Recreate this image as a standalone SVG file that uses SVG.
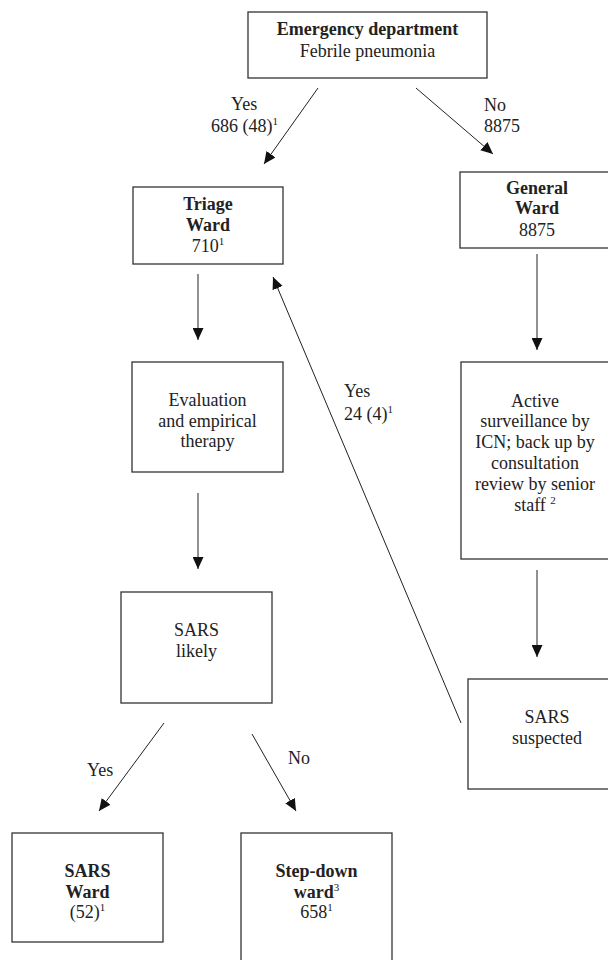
<svg xmlns="http://www.w3.org/2000/svg" width="608" height="960" viewBox="0 0 608 960">
<defs>
<style>
text{font-family:"Liberation Serif",Tinos,"Times New Roman","DejaVu Serif",serif;font-size:18px;fill:#222}
.t{text-anchor:middle}
.b{font-weight:bold}
.sup{font-size:11px;font-weight:normal}
.box{fill:#fff;stroke:#333;stroke-width:1.3}
.c{stroke:#222;stroke-width:1;fill:none;marker-end:url(#ah)}
</style>
<marker id="ah" markerUnits="userSpaceOnUse" markerWidth="12" markerHeight="11" refX="12" refY="5.5" orient="auto">
<path d="M0,0 L12,5.5 L0,11 Z" fill="#111"/>
</marker>
</defs>
<rect width="608" height="960" fill="#fff"/>

<g id="connectors" font-family="Liberation Serif, serif">
<line class="c" x1="318" y1="88" x2="264" y2="164"/>
<line class="c" x1="416" y1="88" x2="493" y2="154"/>
<line class="c" x1="198" y1="274" x2="198" y2="340"/>
<line class="c" x1="198" y1="493" x2="198" y2="569"/>
<line class="c" x1="537" y1="254" x2="537" y2="350"/>
<line class="c" x1="537" y1="570" x2="537" y2="657"/>
<line class="c" x1="461" y1="723" x2="273" y2="277"/>
<line class="c" x1="164" y1="723" x2="99" y2="811"/>
<line class="c" x1="252" y1="734" x2="296" y2="811"/>
<text x="231" y="110">Yes</text>
<text x="211" y="132">686 (48)<tspan class="sup" dy="-7">1</tspan></text>
<text x="484" y="111">No</text>
<text x="484" y="132">8875</text>
<text x="344" y="397">Yes</text>
<text x="344" y="420">24 (4)<tspan class="sup" dy="-7">1</tspan></text>
<text x="87" y="776">Yes</text>
<text x="288" y="764">No</text>
</g>

<g id="emergency">
<rect class="box" x="248" y="12" width="239" height="66"/>
<text class="t b" x="367.5" y="35">Emergency department</text>
<text class="t" x="367.5" y="57">Febrile pneumonia</text>
</g>

<g id="triage">
<rect class="box" x="133" y="187" width="150" height="77"/>
<text class="t b" x="208" y="210">Triage</text>
<text class="t b" x="208" y="231">Ward</text>
<text class="t" x="208" y="252">710<tspan class="sup" dy="-7">1</tspan></text>
</g>

<g id="general">
<rect class="box" x="460" y="172" width="160" height="76"/>
<text class="t b" x="537" y="194">General</text>
<text class="t b" x="537" y="214">Ward</text>
<text class="t" x="537" y="236">8875</text>
</g>

<g id="evaluation">
<rect class="box" x="132" y="362" width="151" height="110"/>
<text class="t" x="207.5" y="406">Evaluation</text>
<text class="t" x="207.5" y="427">and empirical</text>
<text class="t" x="207.5" y="447">therapy</text>
</g>

<g id="surveillance">
<rect class="box" x="461" y="362" width="160" height="197"/>
<text class="t" x="535" y="407">Active</text>
<text class="t" x="535" y="427">surveillance by</text>
<text class="t" x="535" y="448">ICN; back up by</text>
<text class="t" x="535" y="469">consultation</text>
<text class="t" x="535" y="490">review by senior</text>
<text class="t" x="535" y="511">staff <tspan class="sup" dy="-7">2</tspan></text>
</g>

<g id="sars-likely">
<rect class="box" x="121" y="592" width="151" height="111"/>
<text class="t" x="196.5" y="636">SARS</text>
<text class="t" x="196.5" y="657">likely</text>
</g>

<g id="sars-suspected">
<rect class="box" x="468" y="679" width="160" height="110"/>
<text class="t" x="547" y="723">SARS</text>
<text class="t" x="547" y="744">suspected</text>
</g>

<g id="sars-ward">
<rect class="box" x="12" y="833" width="151" height="109"/>
<text class="t b" x="87.5" y="877">SARS</text>
<text class="t b" x="87.5" y="898">Ward</text>
<text class="t" x="87.5" y="918">(52)<tspan class="sup" dy="-7">1</tspan></text>
</g>

<g id="step-down">
<rect class="box" x="241" y="833" width="151" height="140"/>
<text class="t b" x="316.5" y="877">Step-down</text>
<text class="t b" x="316.5" y="898">ward<tspan class="sup" dy="-7">3</tspan></text>
<text class="t" x="316.5" y="918">658<tspan class="sup" dy="-7">1</tspan></text>
</g>
</svg>
